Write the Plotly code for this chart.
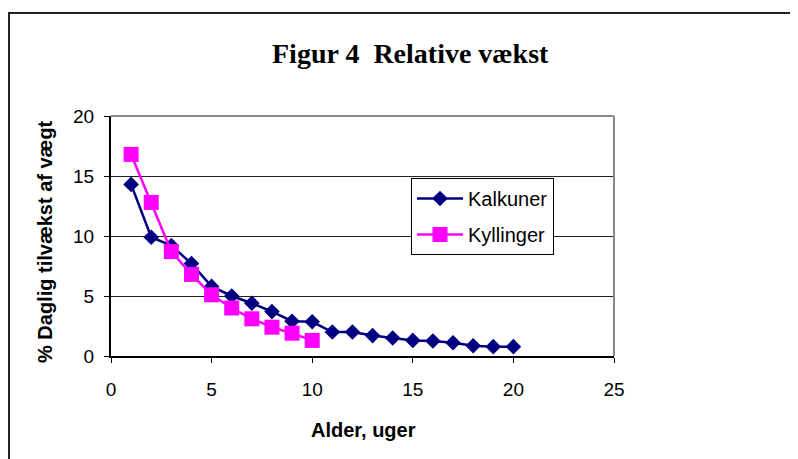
import plotly.graph_objects as go

weeks_kalkuner = list(range(1, 21))
kalkuner = [14.3, 9.9, 9.2, 7.7, 5.8, 5.0, 4.4, 3.7, 2.9, 2.85, 2.0, 2.0, 1.7, 1.5, 1.3, 1.25, 1.1, 0.86, 0.78, 0.78]
weeks_kyllinger = list(range(1, 11))
kyllinger = [16.8, 12.8, 8.7, 6.8, 5.1, 4.0, 3.1, 2.4, 1.9, 1.3]

x_ticks = [0, 5, 10, 15, 20, 25]
y_ticks = [0, 5, 10, 15, 20]

OFF = 8  # page body margin
W, H = 790, 451
L, R, T, B = 111 - OFF, 614 - OFF, 116 - OFF, 356 - OFF
pw, ph = R - L, B - T

def px(x):
    return (x - OFF - L) / pw

def py(y):
    return (B - (y - OFF)) / ph

fig = go.Figure()
fig.add_trace(go.Scatter(
    x=weeks_kalkuner, y=kalkuner, name="Kalkuner", mode="lines+markers",
    legendgroup="a",
    line=dict(color="#000080", width=2.5),
    marker=dict(symbol="diamond", size=12, color="#000080"),
))
fig.add_trace(go.Scatter(
    x=weeks_kyllinger, y=kyllinger, name="Kyllinger", mode="lines+markers",
    legendgroup="b",
    line=dict(color="#FF00FF", width=2.5),
    marker=dict(symbol="square", size=15, color="#FF00FF"),
))

shapes = [
    dict(type="line", xref="paper", yref="paper", x0=px(8), x1=px(820), y0=py(13), y1=py(13),
         line=dict(color="#222", width=2)),
    dict(type="line", xref="paper", yref="paper", x0=px(9), x1=px(9), y0=py(13), y1=py(480),
         line=dict(color="#222", width=2)),
    dict(type="line", xref="paper", yref="paper", x0=0, x1=1, y0=1, y1=1,
         line=dict(color="#888", width=2)),
    dict(type="line", xref="paper", yref="paper", x0=1, x1=1, y0=0, y1=1,
         line=dict(color="#888", width=2)),
]

fig.update_layout(
    width=W, height=H,
    margin=dict(l=L, r=W - R, t=T, b=H - B),
    paper_bgcolor="white", plot_bgcolor="white",
    showlegend=True,
    legend=dict(
        x=px(411), y=py(178), xanchor="left", yanchor="top",
        bgcolor="white", bordercolor="black", borderwidth=1,
        font=dict(family="Liberation Sans, Arial", size=20, color="black"),
        traceorder="grouped", tracegroupgap=7, itemwidth=46,
    ),
    shapes=shapes,
    annotations=[
        dict(text="<b>Figur 4  Relative vækst</b>", xref="paper", yref="paper",
             x=px(410), y=py(53), xanchor="center", yanchor="middle", showarrow=False,
             font=dict(family="Liberation Serif, Times New Roman", size=28, color="black")),
        dict(text="<b>% Daglig tilvækst af vægt</b>", xref="paper", yref="paper",
             x=px(45), y=py(242), xanchor="center", yanchor="middle", showarrow=False,
             textangle=-90,
             font=dict(family="Liberation Sans, Arial", size=20, color="black")),
        dict(text="<b>Alder, uger</b>", xref="paper", yref="paper",
             x=px(363), y=py(430), xanchor="center", yanchor="middle", showarrow=False,
             font=dict(family="Liberation Sans, Arial", size=20, color="black")),
    ],
    xaxis=dict(
        range=[0, 25], tickvals=x_ticks, ticktext=[str(v) for v in x_ticks],
        showgrid=False, zeroline=False, showline=True, linecolor="black", linewidth=2,
        ticks="outside", ticklen=5, tickcolor="black", ticklabelstandoff=10,
        tickfont=dict(family="Liberation Sans, Arial", size=19, color="black"),
    ),
    yaxis=dict(
        range=[0, 20], tickvals=y_ticks, ticktext=[str(v) for v in y_ticks],
        showgrid=True, gridcolor="#222", gridwidth=1, zeroline=False,
        showline=True, linecolor="black", linewidth=2,
        ticks="outside", ticklen=5, tickcolor="black", ticklabelstandoff=6,
        tickfont=dict(family="Liberation Sans, Arial", size=19, color="black"),
    ),
)

fig.write_html("out.html")
